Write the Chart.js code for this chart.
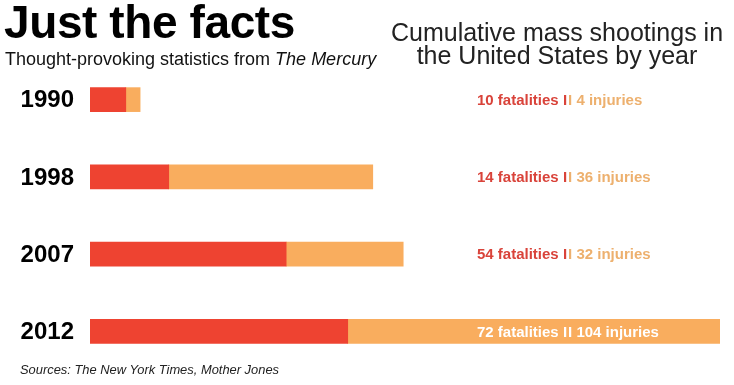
<!DOCTYPE html>
<html>
<head>
<meta charset="utf-8">
<script src="https://cdn.jsdelivr.net/npm/chart.js@4"></script>
<style>
  body { margin: 0; background: #fff; font-family: "Liberation Sans", Arial, sans-serif; }
  #wrap { position: relative; width: 734px; height: 385px; overflow: hidden; }
  #chart { position: absolute; left: 0; top: 0; }
  .title { position: absolute; left: 4px; top: -5px; font-size: 46px; font-weight: bold; letter-spacing: -0.4px; color: #000; }
  .sub { position: absolute; left: 5px; top: 49px; font-size: 18px; color: #111; }
  .head { position: absolute; left: 380px; width: 354px; top: 21px; font-size: 25px; line-height: 23px; text-align: center; color: #222; }
  .src { position: absolute; left: 20px; top: 362px; font-size: 12.9px; font-style: italic; color: #222; }
</style>
</head>
<body>
<div id="wrap">
  <canvas id="chart" width="734" height="385"></canvas>
  <div class="title">Just the facts</div>
  <div class="sub">Thought-provoking statistics from <i>The Mercury</i></div>
  <div class="head">Cumulative mass shootings in<br>the United States by year</div>
  <div class="src">Sources: The New York Times, Mother Jones</div>
</div>
<script>
// Years and the numbers printed next to each bar
const years = ['1990', '1998', '2007', '2012'];
const fatalities = [10, 14, 54, 72];
const injuries = [4, 36, 32, 104];

// Bar lengths as drawn in the original (1998 is drawn longer than its label says)
const barFatalities = [10, 22, 54.8, 72];
const barInjuries = [4, 57, 32.7, 104];

const RED = '#EE4331';
const ORANGE = '#F9AD5E';

// Draws the year labels and the "x fatalities II y injuries" text
const labelPlugin = {
    id: 'labels',
    afterDatasetsDraw(chart) {
        const ctx = chart.ctx;
        const yScale = chart.scales.y;
        ctx.save();
        ctx.textBaseline = 'middle';
        years.forEach((year, i) => {
            const y = yScale.getPixelForValue(i);
            // year on the left
            ctx.font = 'bold 24px "Liberation Sans", Arial, sans-serif';
            ctx.fillStyle = '#000';
            ctx.textAlign = 'right';
            ctx.fillText(year, 74, y + 1);

            // fatalities / injuries text
            const last = i === years.length - 1;
            ctx.font = 'bold 15px "Liberation Sans", Arial, sans-serif';
            ctx.textAlign = 'left';
            const left = fatalities[i] + ' fatalities I';
            const right = 'I ' + injuries[i] + ' injuries';
            let x = 477;
            ctx.fillStyle = last ? '#fff' : '#D9433A';
            ctx.fillText(left, x, y + 1);
            x += ctx.measureText(left).width + 1;
            ctx.fillStyle = last ? '#fff' : '#EDB06E';
            ctx.fillText(right, x, y + 1);
        });
        ctx.restore();
    }
};

new Chart(document.getElementById('chart'), {
    type: 'bar',
    data: {
        labels: years,
        datasets: [
            { label: 'Fatalities', data: barFatalities, backgroundColor: RED, barThickness: 24 },
            { label: 'Injuries', data: barInjuries, backgroundColor: ORANGE, barThickness: 24 }
        ]
    },
    options: {
        indexAxis: 'y',
        responsive: false,
        animation: false,
        layout: { padding: { left: 90, right: 14, top: 61, bottom: 15 } },
        plugins: { legend: { display: false }, tooltip: { enabled: false } },
        scales: {
            x: { stacked: true, display: false, min: 0, max: 176 },
            y: { stacked: true, display: false }
        }
    },
    plugins: [labelPlugin]
});
</script>
</body>
</html>
